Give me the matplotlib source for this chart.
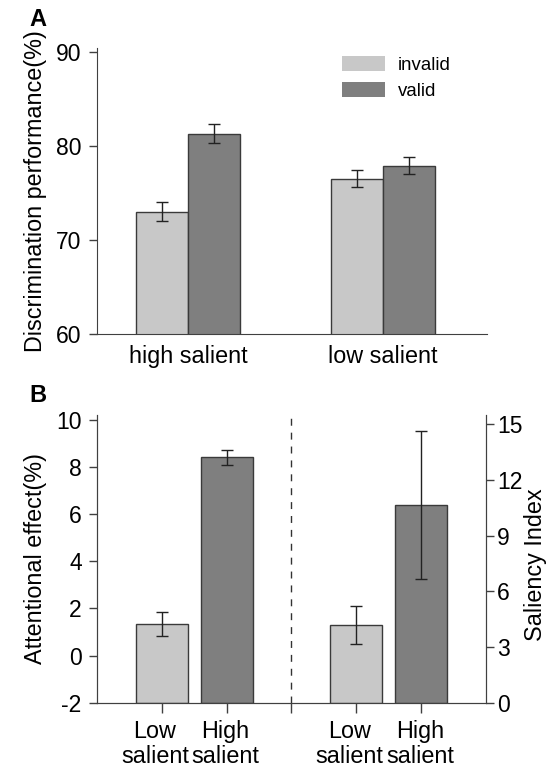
import matplotlib
matplotlib.use('Agg')
import matplotlib.pyplot as plt
from matplotlib.patches import Patch
from matplotlib.transforms import ScaledTranslation
import numpy as np

plt.rcParams['font.family'] = ['Liberation Sans', 'DejaVu Sans']
plt.rcParams['axes.unicode_minus'] = False

# ── Data ─────────────────────────────────────────────────────────────────────
# Panel A: discrimination performance
groups_a = ['high salient', 'low salient']
invalid_mean = [73.0, 76.5]
invalid_err = [1.0, 0.9]
valid_mean = [81.3, 77.9]
valid_err = [1.0, 0.95]

# Panel B: attentional effect (left axis) and saliency index (right axis)
labels_b = ['Low\nsalient', 'High\nsalient']
effect_mean = [1.34, 8.4]
effect_err = [0.5, 0.32]
saliency_mean = [4.19, 10.65]
saliency_err = [1.03, 4.0]

LIGHT = '#c8c8c8'
DARK = '#7f7f7f'
EDGE = '#3a3a3a'
AX = '#404040'
FS = 16.5
LFS = 16.8

fig = plt.figure(figsize=(5.49, 7.69), dpi=100)

# ── Panel A ──────────────────────────────────────────────────────────────────
ax1 = fig.add_axes([0.1767, 0.5657, 0.7103, 0.3715])
xa = np.array([1.0, 2.0])
w = 0.267
ax1.bar(xa - w / 2, invalid_mean, w, color=LIGHT, edgecolor=EDGE, linewidth=1)
ax1.bar(xa + w / 2, valid_mean, w, color=DARK, edgecolor=EDGE, linewidth=1)
ax1.errorbar(xa - w / 2, invalid_mean, yerr=invalid_err, fmt='none', ecolor='#222222',
             elinewidth=1, capsize=4, capthick=1)
ax1.errorbar(xa + w / 2, valid_mean, yerr=valid_err, fmt='none', ecolor='#222222',
             elinewidth=1, capsize=4, capthick=1)
ax1.set_xlim(0.533, 2.533)
ax1.set_ylim(60, 90.36)
ax1.set_yticks([60, 70, 80, 90])
ax1.set_xticks(xa)
ax1.set_xticklabels(groups_a, fontsize=LFS)
ax1.tick_params(axis='x', length=0, pad=8)
ax1.tick_params(axis='y', labelsize=FS, length=6, width=1, color=AX, pad=5)
for s in ['top', 'right']:
    ax1.spines[s].set_visible(False)
for s in ['left', 'bottom']:
    ax1.spines[s].set_color(AX)
ax1.set_ylabel('Discrimination performance(%)', fontsize=LFS, labelpad=7)
handles = [Patch(facecolor=LIGHT, edgecolor='none', label='invalid'),
           Patch(facecolor=DARK, edgecolor='none', label='valid')]
ax1.legend(handles=handles, loc='upper left', bbox_to_anchor=(0.585, 1.03), frameon=False,
           fontsize=13.4, handlelength=2.3, handleheight=0.85, handletextpad=0.7,
           labelspacing=0.4)
fig.text(0.054, 0.974, 'A', fontsize=17, fontweight='bold', va='center', ha='left')

# ── Panel B ──────────────────────────────────────────────────────────────────
ax2 = fig.add_axes([0.1767, 0.0862, 0.7085, 0.3741])
wb = 0.8
left_x = np.array([1.0, 2.0])
right_x = np.array([4.0, 5.0])
y0_left = -2
ax2.bar(left_x, np.array(effect_mean) - y0_left, wb, bottom=y0_left,
        color=[LIGHT, DARK], edgecolor=EDGE, linewidth=1)
ax2.errorbar(left_x, effect_mean, yerr=effect_err, fmt='none', ecolor='#222222',
             elinewidth=1, capsize=4, capthick=1)
ax2.set_xlim(0, 6)
ax2.set_ylim(-2, 10.2)
ax2.set_yticks([-2, 0, 2, 4, 6, 8, 10])
ax2.set_xticks([1, 2, 3, 4, 5])
ax2.set_xticklabels([])
ax2.tick_params(axis='x', length=7, width=1, color=AX)
ax2.tick_params(axis='y', labelsize=FS, length=6, width=1, color=AX, pad=5)
# category labels, nudged a little left like the original layout
for xs in (left_x, right_x):
    for x, lab, dx in zip(xs, labels_b, [-7, -1]):
        tr = ax2.get_xaxis_transform() + ScaledTranslation(dx / 100, -17 / 100, fig.dpi_scale_trans)
        ax2.text(x, 0, lab, transform=tr, ha='center', va='top', fontsize=LFS,
                 linespacing=1.15, multialignment='center')
ax2.axvline(3, color='#333333', linewidth=1, linestyle=(0, (5, 5)), ymax=0.99)
ax2.spines['top'].set_visible(False)
for s in ['left', 'bottom', 'right']:
    ax2.spines[s].set_color(AX)
ax2.set_ylabel('Attentional effect(%)', fontsize=LFS, labelpad=7)

ax3 = ax2.twinx()
ax3.bar(right_x, saliency_mean, wb, color=[LIGHT, DARK], edgecolor=EDGE, linewidth=1)
ax3.errorbar(right_x, saliency_mean, yerr=saliency_err, fmt='none', ecolor='#222222',
             elinewidth=1, capsize=4, capthick=1)
ax3.set_ylim(0, 15.5)
ax3.set_yticks([0, 3, 6, 9, 12, 15])
ax3.tick_params(axis='y', labelsize=FS, length=6, width=1, color=AX, pad=2)
ax3.spines['top'].set_visible(False)
for s in ['left', 'bottom', 'right']:
    ax3.spines[s].set_color(AX)
fig.text(0.9763, 0.2653, 'Saliency Index', fontsize=LFS, rotation=90, ha='center', va='center')
fig.text(0.054, 0.486, 'B', fontsize=17, fontweight='bold', va='center', ha='left')

fig.savefig('out.png', dpi=100)
